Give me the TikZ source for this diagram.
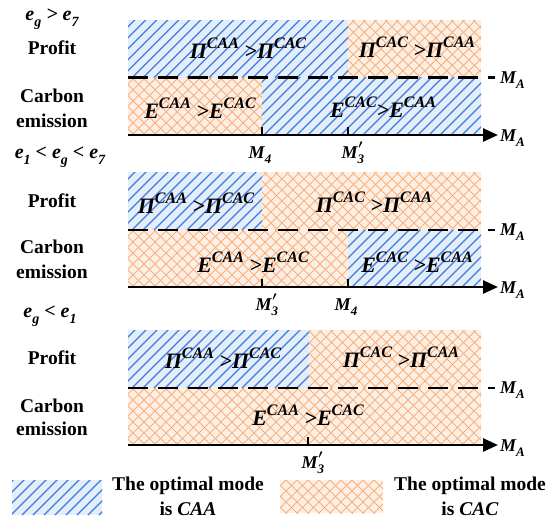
\documentclass[tikz,border=0pt]{standalone}
\usepackage{fontspec}
\setmainfont{Liberation Serif}
\usetikzlibrary{arrows.meta}
\definecolor{bluebg}{RGB}{228,237,250}
\definecolor{blueln}{RGB}{64,124,222}
\definecolor{orbg}{RGB}{253,239,228}
\definecolor{orln}{RGB}{247,176,124}
\newcommand\sups[1]{\raisebox{0.45em}{\fontsize{16}{16}\selectfont #1}}
\newcommand\subs[1]{\raisebox{-0.3em}{\fontsize{13}{13}\selectfont #1}}
\newcommand\lsubs[1]{\raisebox{-0.3em}{\fontsize{14}{14}\selectfont #1}}
\newcommand\mprime{\kern-0.32em\raisebox{10pt}{\fontsize{13}{13}\selectfont$\boldsymbol{\prime}$}}
\usepackage{amsmath,amssymb}
\usepackage{bm}
\renewcommand\boldsymbol{\bm}
\newcommand\bluehatch[4]{%
  \begin{scope}
    \clip (#1,#2) rectangle (#3,#4);
    \fill[bluebg] (#1,#2) rectangle (#3,#4);
    \foreach \i in {-66,-55,...,570} \draw[blueln,line width=1.3pt] (\i,#4) -- ++(120,-120);
  \end{scope}}
\newcommand\orhatch[4]{%
  \begin{scope}
    \clip (#1,#2) rectangle (#3,#4);
    \fill[orbg] (#1,#2) rectangle (#3,#4);
    \foreach \i in {-66,-55,...,570} {
      \draw[orln,line width=0.9pt] (\i,#4) -- ++(120,-120);
      \draw[orln,line width=0.9pt] (\i,#2) -- ++(120,120);
    }
  \end{scope}}
\tikzset{
  reg/.style={font=\fontsize{22}{22}\selectfont\bfseries\itshape, inner sep=0pt, anchor=base},
  lab/.style={font=\fontsize{19.5}{22}\selectfont\bfseries, inner sep=0pt, anchor=base},
  elab/.style={font=\fontsize{20}{20}\selectfont\bfseries\itshape, inner sep=0pt, anchor=base},
  mlab/.style={font=\fontsize{18}{18}\selectfont\bfseries\itshape, inner sep=0pt, anchor=base},
  axisln/.style={line width=2.6pt, -{Triangle[length=15pt,width=13pt]}},
  dashln/.style={line width=2.6pt, dash pattern=on 20pt off 10pt},
  tickln/.style={line width=2pt},
}
\begin{document}
\begin{tikzpicture}[x=1pt,y=-1pt]
\useasboundingbox (0,0) rectangle (550,525);

% ---------------- panel 1 ----------------
\bluehatch{128}{20}{348}{77.7}
\orhatch{348}{20}{481}{77.7}
\orhatch{128}{77.7}{262}{135}
\bluehatch{262}{77.7}{481}{135}
\coordinate (d1s) at (128,77.7); \coordinate (d1e) at (495,77.7);
\coordinate (a1s) at (128,135);  \coordinate (a1e) at (498,135);
\draw[dashln] (d1s) -- (d1e);
\draw[axisln] (a1s) -- (a1e);
\coordinate (k1a) at (262,135); \coordinate (k1b) at (348,135);
\draw[tickln] (k1a) -- ++(0,-8);
\draw[tickln] (k1b) -- ++(0,-8);
\node[mlab] (m1a) at (260,158) {M\subs{4}};
\node[mlab] (m1b) at (352,158) {M\subs{3}\mprime};
\node[mlab,anchor=base west] (ma1) at (500,83) {M\subs{A}};
\node[mlab,anchor=base west] (ma2) at (500,141) {M\subs{A}};
\node[reg] (t1a) at (248,58) {Π\sups{CAA} >Π\sups{CAC}};
\node[reg] (t1b) at (417,57) {Π\sups{CAC} >Π\sups{CAA}};
\node[reg] (t1c) at (200,118) {E\sups{CAA} >E\sups{CAC}};
\node[reg] (t1d) at (383,117) {E\sups{CAC}>E\sups{CAA}};
\node[elab] (c1) at (52,20) {e\lsubs{g} > e\lsubs{7}};
\node[lab] (p1) at (52,54) {Profit};
\node[lab] (cb1) at (52,102) {Carbon};
\node[lab] (em1) at (52,127) {emission};

% ---------------- panel 2 ----------------
\node[elab] (c2) at (60,158) {e\lsubs{1} < e\lsubs{g} < e\lsubs{7}};
\bluehatch{128}{172}{262}{230}
\orhatch{262}{172}{481}{230}
\orhatch{128}{230}{348}{287}
\bluehatch{348}{230}{481}{287}
\coordinate (d2s) at (128,230); \coordinate (d2e) at (495,230);
\coordinate (a2s) at (128,287);  \coordinate (a2e) at (498,287);
\draw[dashln] (d2s) -- (d2e);
\draw[axisln] (a2s) -- (a2e);
\coordinate (k2a) at (262,287); \coordinate (k2b) at (348,287);
\draw[tickln] (k2a) -- ++(0,-8);
\draw[tickln] (k2b) -- ++(0,-8);
\node[mlab] (m2a) at (266,310) {M\subs{3}\mprime};
\node[mlab] (m2b) at (346,310) {M\subs{4}};
\node[mlab,anchor=base west] (ma3) at (500,235) {M\subs{A}};
\node[mlab,anchor=base west] (ma4) at (500,293) {M\subs{A}};
\node[reg] (t2a) at (196,213) {Π\sups{CAA} >Π\sups{CAC}};
\node[reg] (t2b) at (374,212) {Π\sups{CAC} >Π\sups{CAA}};
\node[reg] (t2c) at (253,272) {E\sups{CAA} >E\sups{CAC}};
\node[reg] (t2d) at (417,272) {E\sups{CAC} >E\sups{CAA}};
\node[lab] (p2) at (52,207) {Profit};
\node[lab] (cb2) at (52,253) {Carbon};
\node[lab] (em2) at (52,278) {emission};

% ---------------- panel 3 ----------------
\node[elab] (c3) at (50,317) {e\lsubs{g} < e\lsubs{1}};
\bluehatch{128}{330}{309}{388}
\orhatch{309}{330}{481}{388}
\orhatch{128}{388}{481}{445}
\coordinate (d3s) at (128,388); \coordinate (d3e) at (495,388);
\coordinate (a3s) at (128,445);  \coordinate (a3e) at (498,445);
\draw[dashln] (d3s) -- (d3e);
\draw[axisln] (a3s) -- (a3e);
\coordinate (k3a) at (308,445);
\draw[tickln] (k3a) -- ++(0,-8);
\node[mlab] (m3a) at (312,468) {M\subs{3}\mprime};
\node[mlab,anchor=base west] (ma5) at (500,393) {M\subs{A}};
\node[mlab,anchor=base west] (ma6) at (500,451) {M\subs{A}};
\node[reg] (t3a) at (223,368) {Π\sups{CAA} >Π\sups{CAC}};
\node[reg] (t3b) at (401,367) {Π\sups{CAC} >Π\sups{CAA}};
\node[reg] (t3c) at (308,425) {E\sups{CAA} >E\sups{CAC}};
\node[lab] (p3) at (52,364) {Profit};
\node[lab] (cb3) at (52,412) {Carbon};
\node[lab] (em3) at (52,435) {emission};

% ---------------- legend ----------------
\bluehatch{12}{480}{102}{515}
\orhatch{280}{480}{383}{513}
\node[lab] (lg1) at (188,490) {The optimal mode};
\node[lab] (lg2) at (188,515) {is \textit{CAA}};
\node[lab] (lg3) at (470,490) {The optimal mode};
\node[lab] (lg4) at (470,515) {is \textit{CAC}};
\end{tikzpicture}
\end{document}
